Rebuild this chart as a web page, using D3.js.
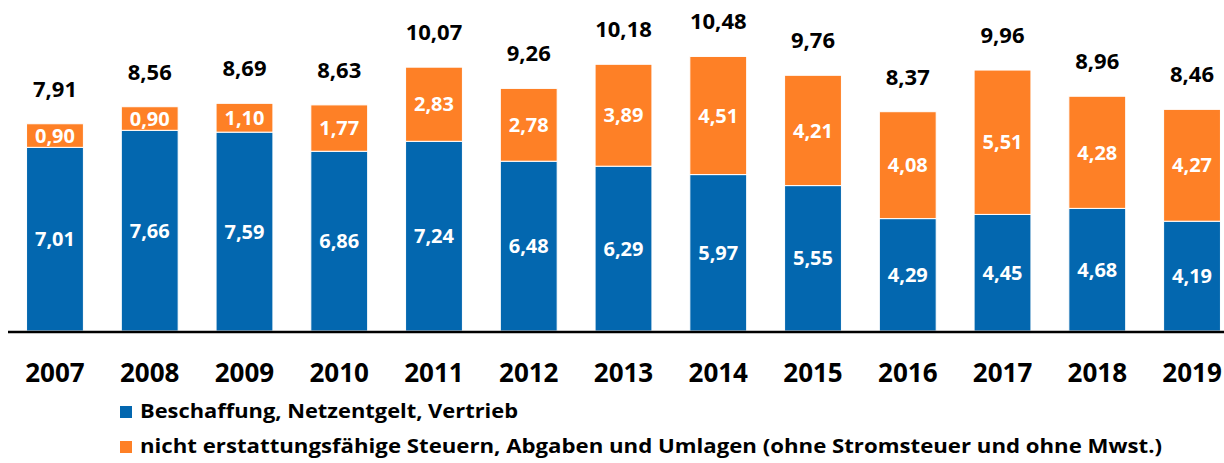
<!DOCTYPE html>
<html>
<head>
<meta charset="utf-8">
<script src="https://cdn.jsdelivr.net/npm/d3@7"></script>
<style>
  body { margin: 0; background: #fff; }
  svg { display: block; font-family: "Open Sans", sans-serif; font-weight: 700; }
</style>
</head>
<body>
<script>
  // values
  const years = ["2007","2008","2009","2010","2011","2012","2013","2014","2015","2016","2017","2018","2019"];
  const beschaffung = [7.01,7.66,7.59,6.86,7.24,6.48,6.29,5.97,5.55,4.29,4.45,4.68,4.19];
  const steuern = [0.90,0.90,1.10,1.77,2.83,2.78,3.89,4.51,4.21,4.08,5.51,4.28,4.27];
  const totals = [7.91,8.56,8.69,8.63,10.07,9.26,10.18,10.48,9.76,8.37,9.96,8.96,8.46];
  const seriesNames = ["Beschaffung, Netzentgelt, Vertrieb",
    "nicht erstattungsfähige Steuern, Abgaben und Umlagen (ohne Stromsteuer und ohne Mwst.)"];

  const colors = { blue: "#0367AF", orange: "#FE8026" };
  const size = { width: 1224, height: 463, base: 331 };

  const fmt = v => v.toFixed(2).replace(".", ",");

  const svg = d3.select("body").append("svg")
      .attr("width", size.width)
      .attr("height", size.height);

  const x = d3.scaleBand()
      .domain(years)
      .range([7.6, 1239.4])
      .paddingInner(0.4)
      .paddingOuter(0.2);

  const y = d3.scaleLinear()
      .domain([0, 10])
      .range([size.base, size.base - 262]);

  const rows = years.map((yr, i) => ({ yr: yr, b: beschaffung[i], s: steuern[i], t: totals[i] }));

  // blue segment
  svg.selectAll(".blue").data(rows).enter().append("rect")
      .attr("x", d => x(d.yr))
      .attr("y", d => y(d.b))
      .attr("width", x.bandwidth())
      .attr("height", d => y(0) - y(d.b))
      .attr("fill", colors.blue)
      .attr("stroke", "#fff")
      .attr("stroke-width", 1);

  // orange segment on top
  svg.selectAll(".orange").data(rows).enter().append("rect")
      .attr("x", d => x(d.yr))
      .attr("y", d => y(d.b + d.s))
      .attr("width", x.bandwidth())
      .attr("height", d => y(d.b) - y(d.b + d.s))
      .attr("fill", colors.orange)
      .attr("stroke", "#fff")
      .attr("stroke-width", 1);

  // segment labels
  svg.selectAll(".lb").data(rows).enter().append("text")
      .attr("x", d => x(d.yr) + x.bandwidth() / 2)
      .attr("y", d => (y(0) + y(d.b)) / 2)
      .attr("dy", "0.36em")
      .attr("text-anchor", "middle")
      .attr("fill", "#fff")
      .attr("font-size", 20)
      .text(d => fmt(d.b));

  svg.selectAll(".ls").data(rows).enter().append("text")
      .attr("x", d => x(d.yr) + x.bandwidth() / 2)
      .attr("y", d => (y(d.b) + y(d.b + d.s)) / 2)
      .attr("dy", "0.36em")
      .attr("text-anchor", "middle")
      .attr("fill", "#fff")
      .attr("font-size", 20)
      .text(d => fmt(d.s));

  // totals above bars
  svg.selectAll(".lt").data(rows).enter().append("text")
      .attr("x", d => x(d.yr) + x.bandwidth() / 2)
      .attr("y", d => y(d.b + d.s) - 27)
      .attr("text-anchor", "middle")
      .attr("fill", "#000")
      .attr("font-size", 22)
      .text(d => fmt(d.t));

  // x axis
  const xAxis = d3.axisBottom(x).tickSize(0).tickPadding(0);
  const gx = svg.append("g")
      .attr("transform", "translate(0," + size.base + ")")
      .call(xAxis);
  gx.select(".domain").remove();
  gx.selectAll("text")
      .attr("dy", 0)
      .attr("y", 51)
      .attr("fill", "#000")
      .attr("font-size", 26)
      .attr("font-family", "Open Sans, sans-serif")
      .attr("font-weight", 700);

  svg.append("line")
      .attr("x1", 8).attr("x2", size.width)
      .attr("y1", size.base + 1).attr("y2", size.base + 1)
      .attr("stroke", "#000")
      .attr("stroke-width", 2.5);

  // legend (widths stretched to match the original font)
  const legendWidths = [378, 1022];
  const legend = svg.selectAll(".leg").data(seriesNames).enter().append("g")
      .attr("transform", (d, i) => "translate(120," + (418 + i * 35) + ")");
  legend.append("rect")
      .attr("y", -12)
      .attr("width", 12).attr("height", 12)
      .attr("fill", (d, i) => i === 0 ? colors.blue : colors.orange);
  legend.append("text")
      .attr("x", 20)
      .attr("y", 0)
      .attr("font-size", 19)
      .attr("fill", "#000")
      .attr("textLength", (d, i) => legendWidths[i])
      .attr("lengthAdjust", "spacingAndGlyphs")
      .text(d => d);
</script>
</body>
</html>
